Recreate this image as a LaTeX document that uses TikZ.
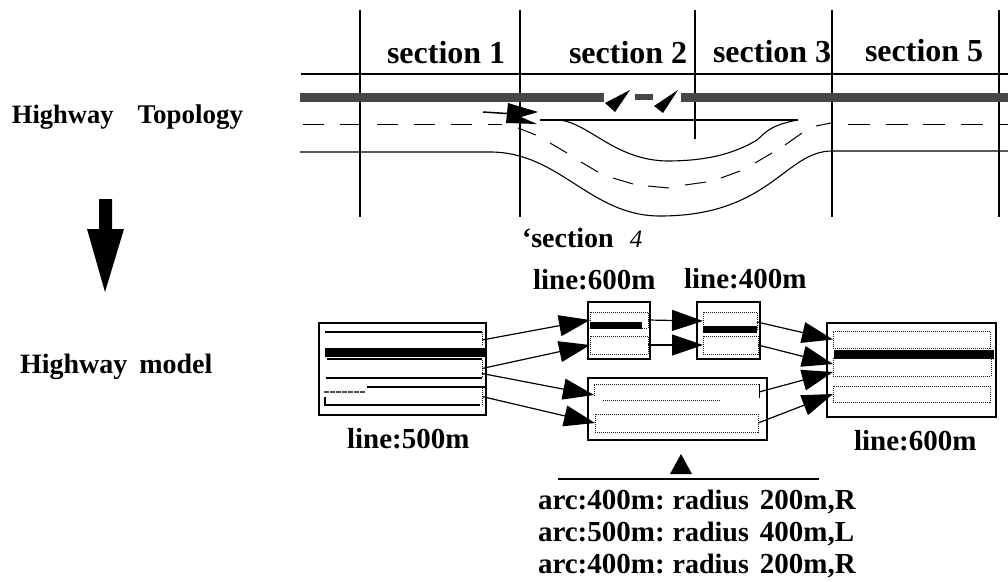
\documentclass[tikz,border=0pt]{standalone}
\usepackage{fontspec}
\setmainfont{Liberation Serif}
\usetikzlibrary{arrows.meta}
\newcommand{\rectnode}[6][]{%
  \pgfmathsetmacro\rw{#5-#3}\pgfmathsetmacro\rh{#6-#4}%
  \node[inner sep=0pt,outer sep=0pt,minimum width=\rw pt,minimum height=\rh pt,#1] (#2) at ({(#3+#5)/2},{(#4+#6)/2}) {};}
\newcommand{\lbl}[5][]{\node[lab,#1] (#2) at (#3,#4) {#5};}
\newcommand{\fs}[1]{\fontsize{#1}{#1}\selectfont}
\tikzset{
  lab/.style={anchor=base west,inner sep=0pt,outer sep=0pt,font=\bfseries},
  road/.style={line width=1.1pt,black},
  sectionline/.style={line width=1.2pt,black},
  lanedash/.style={line width=1.0pt,black},
  divbar/.style={fill=black!72,draw=none},
  frame/.style={draw=black,line width=1.3pt},
  lanebox/.style={draw=black!90,line width=1pt,densely dotted},
  solidbar/.style={fill=black,draw=none},
  modelline/.style={line width=1.3pt,black},
  laneedge/.style={line width=1pt,black!90,densely dotted},
  link/.style={line width=1.2pt,black,-{Triangle[length=31pt,width=21pt]}},
  wedge/.style={fill=black,draw=none},
}
\begin{document}
\begin{tikzpicture}[x=1pt,y=-1pt]
\useasboundingbox (0,0) rectangle (1008,581);
% --- topology: section lines
\coordinate (vt1) at (360,10); \coordinate (vb1) at (360,217);
\coordinate (vt2) at (520,10); \coordinate (vb2) at (520,217);
\coordinate (vt3) at (695,10); \coordinate (vb3) at (695,139);
\coordinate (vt4) at (832,10); \coordinate (vb4) at (832,217);
\coordinate (vt5) at (999,10); \coordinate (vb5) at (999,217);
\foreach \i in {1,...,5} \draw[sectionline] (vt\i) -- (vb\i);
% road
\draw[road] (301,74) -- (1008,74);
\rectnode[divbar]{bar1}{300}{93}{604}{102}
\rectnode[divbar]{bar2}{635}{94}{653}{100}
\rectnode[divbar]{bar3}{681}{93}{1008}{102}
\fill[wedge] (630,90) -- (605,103) -- (615,112) -- cycle;
\fill[wedge] (678,90) -- (654,106) -- (663,113) -- cycle;
\fill[wedge] (508,103) -- (538,112) -- (521,117) -- (537,124) -- (506,123) -- cycle;
\draw[line width=1.5pt] (483,112) -- (515,114);
% dashed centre line
\draw[lanedash,dash pattern=on 21pt off 16pt] (303,124) -- (502,124);
\draw[lanedash] (518,128) -- (536,135) (550,143) -- (567,153) (581,162) -- (598,172)
  (613,178) -- (633,184) (648,186) -- (669,188) (685,185) -- (706,182)
  (721,178) -- (740,171) (755,163) -- (772,153) (785,145) -- (802,133)
  (816,126) -- (831,123);
\draw[lanedash,dash pattern=on 22pt off 15.5pt] (848,124) -- (1008,124);
% upper edge of the ramp
\draw[road] (540,120) -- (798,120);
\draw[road] (560,120) .. controls (590,124) and (615,160) .. (667,161)
  .. controls (715,161) and (740,150) .. (757,140)
  .. controls (765,133) and (770,125) .. (798,120);
% lower edge
\draw[road] (300,152) -- (490,152) .. controls (560,152) and (590,216) .. (660,216)
  .. controls (770,216) and (785,151) .. (832,151) -- (1008,151);
% section labels
\lbl{s1}{387}{63}{\fs{32}section 1}
\lbl{s2}{569}{63}{\fs{32}section 2}
\lbl{s3}{713}{62}{\fs{32}section 3}
\lbl{s5}{865}{61}{\fs{32}section 5}
\lbl{s4}{522}{247}{\fs{28}‘section\hspace{16pt}{\mdseries\itshape\fs{25}4}}
\lbl{ht}{12}{123}{\fs{26.5}Highway\hspace{24pt}{\fs{27}Topology}}
\lbl{hm}{20}{373}{\fs{28}Highway\hspace{12pt}model}
% big arrow
\fill[wedge] (99,199) -- (112,199) -- (112,229) -- (124,229) -- (105,292) -- (87,229) -- (99,229) -- cycle;
% --- model: boxes
\rectnode[frame]{la}{319}{323}{486}{415}
\rectnode{l1}{325}{332}{482}{348}
\rectnode{l2}{327}{359}{482}{378}
\rectnode{l3}{325}{388}{482}{405}
\rectnode[solidbar]{lbar}{325}{348}{486}{357}
\draw[modelline] (325,332) -- (482,332);
\draw[modelline] (327,359) -- (482,359);
\draw[modelline] (326,378) -- (482,378);
\draw[modelline] (367,387) -- (486,387);
\draw[modelline] (325,397) -- (325,405) -- (480,405);
\draw[line width=1.1pt,black!70,dash pattern=on 5pt off 1pt] (324,392) -- (365,392);
\draw[laneedge] (482,332) -- (482,346) (482,360) -- (482,378) (482,388) -- (482,405);
\rectnode[frame]{aa}{588}{302}{650}{359}
\rectnode[lanebox]{a1}{590}{312}{648}{328}
\rectnode[solidbar]{abar}{590}{322}{642}{329}
\rectnode[lanebox]{a2}{590}{336}{648}{354}
\rectnode[frame]{bb}{697}{302}{760}{359}
\rectnode[lanebox]{b1}{703}{312}{757}{330}
\rectnode[solidbar]{bbar}{703}{326}{757}{333}
\rectnode[lanebox]{b2}{703}{336}{758}{354}
\rectnode[frame]{cc}{588}{378}{767}{440}
\rectnode{c1}{594}{384}{759}{400}
\draw[laneedge] (594,396) -- (594,384) -- (759,384);
\draw[line width=1pt] (759,384) -- (759,398);
\draw[laneedge] (603,400) -- (720,400);
\rectnode[lanebox]{c2}{595}{414}{758}{432}
\rectnode[frame]{dd}{827}{323}{996}{417}
\rectnode[lanebox]{d1}{833}{331}{990}{348}
\rectnode[solidbar]{dbar}{834}{350}{994}{359}
\rectnode[lanebox]{d2}{833}{358}{991}{376}
\rectnode[lanebox]{d3}{833}{386}{990}{402}
% connectors
\draw[link] (l1.east) -- (a1.west);
\draw[link] (l2.east) -- (a2.west);
\draw[link] ([yshift=-5pt]l2.east) -- ([yshift=-3pt]c1.west);
\draw[link] (l3.east) -- (c2.west);
\draw[link] (a1.east) -- (b1.west);
\draw[link] (a2.east) -- (b2.west);
\draw[link] ([yshift=-1pt]b1.east) -- (d1.west);
\draw[link] (b2.east) -- ([yshift=3pt]d2.west);
\draw[link] (c1.east) -- ([yshift=-5pt]d2.west);
\draw[link] (c2.east) -- (d3.west);
% model labels
\lbl{t1}{347}{448}{\fs{29}line:500m}
\lbl{t2}{533}{289}{\fs{29}line:600m}
\lbl{t3}{684}{288}{\fs{29}line:400m}
\lbl{t4}{854}{450}{\fs{29}line:600m}
\fill[wedge] (681,454) -- (692,474) -- (670,474) -- cycle;
\draw[line width=1.6pt] (558,479) -- (819,479);
\lbl{u1}{538}{509}{\fs{29}arc:400m:\hspace{8pt}{\fs{28}radius}\hspace{11pt}200m,R}
\lbl{u2}{538}{541}{\fs{29}arc:500m:\hspace{8pt}{\fs{28}radius}\hspace{11pt}400m,L}
\lbl{u3}{538}{573}{\fs{29}arc:400m:\hspace{8pt}{\fs{28}radius}\hspace{11pt}200m,R}
\end{tikzpicture}
\end{document}
